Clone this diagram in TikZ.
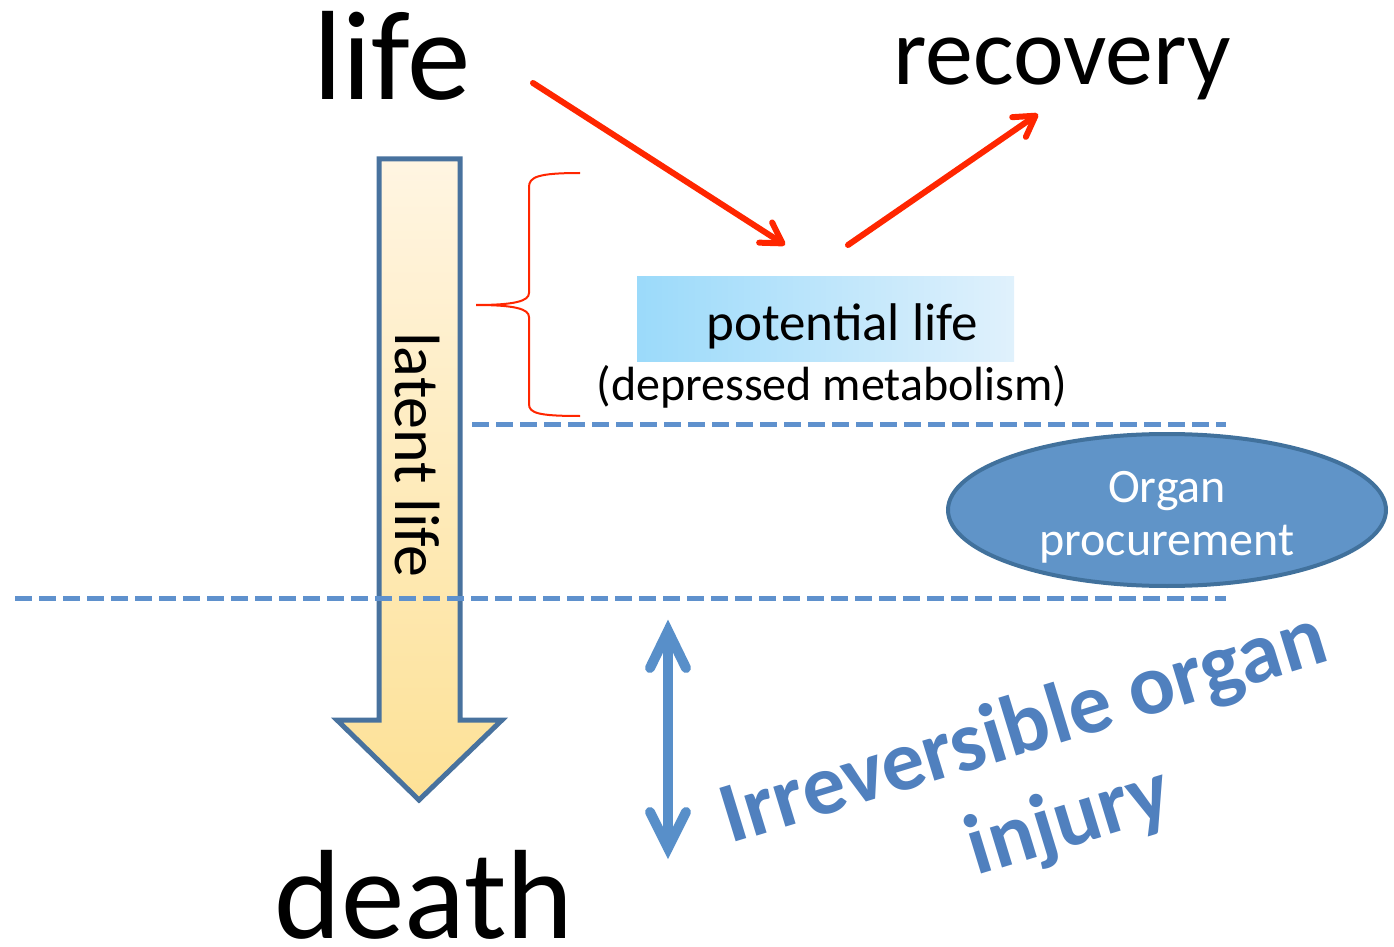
\documentclass[tikz,border=0pt]{standalone}
\usepackage{fontspec}
\setmainfont{Carlito}
\usetikzlibrary{arrows.meta,shapes.geometric}
\definecolor{redarr}{RGB}{255,38,0}
\definecolor{dashblue}{RGB}{95,145,205}
\definecolor{ellfill}{RGB}{96,148,200}
\definecolor{elldraw}{RGB}{65,113,156}
\definecolor{arrdraw}{RGB}{72,114,158}
\definecolor{injblue}{RGB}{80,128,190}
\definecolor{dblarrow}{RGB}{88,143,201}
\definecolor{boxleft}{RGB}{155,218,250}
\definecolor{boxright}{RGB}{224,241,252}
\definecolor{arrtop}{RGB}{255,245,226}
\definecolor{arrbot}{RGB}{253,225,150}
\tikzset{
  bigword/.style={font=\fontsize{63.5}{76}\selectfont, inner sep=0pt, anchor=base},
  redarrow/.style={draw=redarr, line width=3pt, line cap=round, -{Straight Barb[length=10pt,width=12pt,round]}},
  dashline/.style={draw=dashblue, line width=2.5pt, dash pattern=on 8.5pt off 3.5pt},
  pbox/.style={rectangle, inner sep=0pt, minimum width=188.5pt, minimum height=42pt, left color=boxleft, right color=boxright, draw=none},
  midtext/.style={font=\fontsize{26.5}{32}\selectfont, inner sep=0pt, anchor=base},
  organ/.style={ellipse, inner sep=0pt, minimum width=219pt, minimum height=76pt, fill=ellfill, draw=elldraw, line width=2pt},
  organtext/.style={text=white, align=center, inner sep=0pt, font=\fontsize{24}{26.5}\selectfont},
  injtext/.style={font=\bfseries\fontsize{43}{50}\selectfont, text=injblue, rotate=17, inner sep=0pt, anchor=base},
  dblarr/.style={draw=dblarrow, line width=5pt, line cap=round, line join=miter},
  bracepath/.style={draw=redarr, line width=1pt}
}
\begin{document}
\begin{tikzpicture}[x=0.5pt,y=-0.5pt]
\useasboundingbox (0,0) rectangle (1394,947);
% big down arrow
\path[shade, top color=arrtop, bottom color=arrbot, draw=arrdraw, line width=2.5pt, line join=miter]
  (379,159) -- (460,159) -- (460,720) -- (502,720) -- (419,800) -- (337,720) -- (379,720) -- cycle;
\node[font=\fontsize{32}{38}\selectfont, rotate=-90, inner sep=0pt] (latent) at (417,455) {latent life};
% words
\node[bigword] (life) at (392,100) {life};
\node[bigword, font=\fontsize{48}{58}\selectfont] (recovery) at (1062,85) {recovery};
\node[bigword] (death) at (424,938) {death};
% potential life box
\node[pbox] (box) at (825.5,319) {};
\node[midtext] (pl) at (842,340) {potential life};
\node[midtext, font=\fontsize{24}{30}\selectfont] (dm) at (832,400) {(depressed metabolism)};
% brace
\draw[bracepath] (580,173) .. controls (538,173) and (529,177) .. (529,187) -- (529,293)
  .. controls (529,301) and (515,305) .. (476,305)
  .. controls (515,305) and (529,309) .. (529,317) -- (529,404)
  .. controls (529,413) and (538,416) .. (580,416);
% red arrows
\coordinate (r1s) at (533,83);
\coordinate (r1e) at (785,245);
\coordinate (r2s) at (848,245);
\coordinate (r2e) at (1038,114);
\draw[redarrow] (r1s) -- (r1e);
\draw[redarrow] (r2s) -- (r2e);
% ellipse
\node[organ] (org) at (1167,510) {};
\node[organtext] (orgt) at (1167,517) {Organ\\procurement};
% dashed lines
\coordinate (d1a) at (472,424);
\coordinate (d1b) at (1226,424);
\coordinate (d2a) at (15,598);
\coordinate (d2b) at (1226,598);
\draw[dashline] (d1a) -- (d1b);
\draw[dashline] (d2a) -- (d2b);
% double arrow
\coordinate (ut) at (668,631);
\coordinate (bt) at (668,848);
\draw[dblarr] (ut) -- (bt);
\draw[dblarr] (650,668) -- (ut) -- (686,668);
\draw[dblarr] (650,812) -- (bt) -- (686,812);
% irreversible
\node[injtext] (irr) at (1031,752) {Irreversible organ};
\node[injtext] (inj) at (1076,845) {injury};
\end{tikzpicture}
\end{document}
